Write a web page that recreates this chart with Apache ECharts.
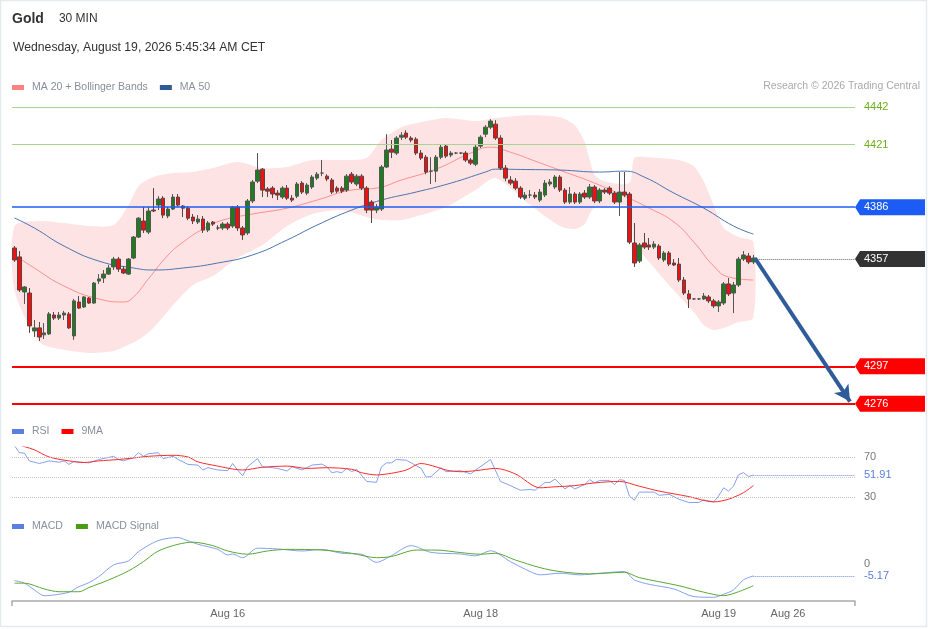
<!DOCTYPE html>
<html>
<head>
<meta charset="utf-8">
<title>Gold 30 MIN</title>
<script src="https://cdn.jsdelivr.net/npm/echarts@6/dist/echarts.min.js"></script>
<style>
html, body { margin: 0; padding: 0; background: #fff; }
#main { width: 929px; height: 629px; }
</style>
</head>
<body>
<div id="main"></div>
<script>
var FONT = '"Liberation Sans", Arial, sans-serif';

// x slots (30 min candles) and the date labels under the chart
var slotCount = 170;
var tickIdx = [43, 94, 142, 156];
var tickLabels = ['Aug 16', 'Aug 18', 'Aug 19', 'Aug 26'];

// candles
var open = [4363.2,4358.2,4338.6,4338.0,4316.8,4318.5,4314.6,4315.1,4325.7,4324.0,4325.7,4326.3,4314.0,4333.0,4330.2,4335.2,4332.4,4344.7,4346.4,4348.6,
  4352.6,4357.0,4351.4,4348.6,4357.6,4369.3,4378.3,4372.1,4384.4,4387.2,4391.1,4381.1,4385.0,4391.7,4386.7,4385.5,4380.5,4377.7,4379.4,4373.2,
  4377.7,4374.4,4374.4,4376.6,4375.5,4386.1,4374.4,4371.6,4389.5,4400.6,4407.3,4396.2,4396.7,4393.9,4391.7,4396.7,4391.1,4392.2,4399.5,4393.9,
  4397.3,4402.3,4405.1,4403.4,4401.2,4396.7,4396.7,4395.6,4404.5,4399.0,4403.4,4396.7,4388.9,4384.4,4385.0,4408.5,4418.5,4416.3,4425.2,4427.5,
  4424.7,4424.1,4416.3,4414.0,4406.2,4406.2,4414.0,4420.2,4415.2,4416.3,4416.3,4416.3,4412.4,4410.1,4420.2,4426.9,4430.8,4432.5,4424.7,4407.9,
  4401.2,4400.6,4396.7,4391.1,4392.8,4392.8,4390.0,4392.8,4399.0,4397.3,4402.9,4395.6,4388.9,4393.4,4388.9,4393.9,4391.7,4397.3,4389.5,4395.6,
  4396.7,4393.9,4388.9,4394.5,4393.4,4366.0,4355.9,4366.0,4364.9,4363.7,4364.3,4356.5,4360.4,4354.8,4354.2,4345.3,4337.5,4334.7,4334.7,4334.7,
  4335.8,4333.6,4330.8,4332.4,4343.1,4338.0,4342.5,4357.0,4358.7,4355.4];
var close = [4356.5,4339.7,4341.4,4319.6,4318.5,4313.4,4315.7,4326.3,4324.0,4325.7,4326.8,4318.5,4333.6,4329.6,4335.8,4332.4,4343.6,4345.9,4348.6,4352.0,
  4357.0,4351.4,4349.2,4357.0,4369.3,4379.9,4373.2,4383.9,4383.9,4390.6,4381.6,4385.0,4391.7,4387.2,4385.5,4379.9,4378.3,4379.4,4373.2,4377.2,
  4376.6,4374.4,4376.6,4374.4,4386.1,4374.4,4370.5,4389.5,4400.1,4406.8,4395.6,4395.0,4393.4,4392.8,4396.7,4391.1,4390.0,4399.0,4394.5,4398.4,
  4402.9,4404.5,4405.1,4401.8,4394.5,4395.0,4395.0,4403.4,4400.1,4403.4,4396.7,4384.4,4384.4,4386.1,4408.5,4418.0,4416.8,4424.7,4426.3,4425.2,
  4423.6,4416.3,4413.5,4405.7,4406.2,4414.0,4419.6,4414.6,4416.3,4416.3,4416.3,4412.4,4410.7,4419.6,4425.2,4430.8,4434.2,4424.7,4407.9,4402.3,
  4399.5,4396.7,4391.7,4392.8,4392.8,4391.7,4394.5,4399.5,4400.1,4402.9,4395.6,4388.9,4393.4,4388.9,4393.4,4391.7,4397.3,4389.5,4395.6,4394.5,
  4393.9,4388.9,4394.5,4392.8,4366.5,4354.8,4364.9,4363.7,4363.7,4365.4,4357.6,4360.4,4354.2,4353.7,4345.3,4338.0,4334.7,4334.7,4334.7,4336.3,
  4333.6,4330.8,4333.0,4343.1,4337.5,4342.5,4357.0,4359.3,4355.4,4357.6];
var low = [4355.4,4338.6,4331.9,4315.7,4313.4,4311.2,4312.3,4314.6,4322.9,4322.9,4322.9,4317.9,4311.8,4329.1,4329.6,4331.9,4331.9,4343.1,4343.6,4348.1,
  4350.9,4349.8,4348.6,4348.1,4357.0,4368.8,4371.6,4371.0,4383.3,4384.4,4379.9,4379.9,4384.4,4386.1,4380.5,4378.8,4376.6,4376.6,4371.6,4372.1,
  4375.5,4373.2,4373.2,4373.2,4374.4,4372.7,4367.7,4370.5,4388.3,4399.5,4391.7,4391.7,4391.1,4390.0,4390.6,4390.0,4388.9,4391.1,4393.4,4392.8,
  4396.2,4401.2,4403.4,4400.6,4393.4,4393.9,4393.9,4394.5,4399.0,4397.8,4395.6,4382.7,4377.2,4382.7,4383.9,4407.9,4413.5,4415.2,4423.6,4424.1,
  4422.4,4415.2,4412.4,4404.5,4399.0,4400.1,4412.9,4413.5,4414.0,4415.7,4415.7,4411.3,4409.6,4409.0,4419.1,4425.2,4429.7,4423.6,4406.8,4400.6,
  4398.4,4395.6,4390.6,4390.0,4391.1,4390.6,4388.9,4391.7,4397.8,4396.2,4394.5,4387.8,4387.8,4387.8,4387.8,4390.6,4390.6,4388.3,4388.3,4393.4,
  4392.8,4387.8,4381.1,4391.7,4365.4,4352.6,4354.8,4362.6,4362.1,4362.6,4356.5,4355.4,4353.1,4353.1,4344.2,4336.9,4329.6,4334.1,4334.1,4334.1,
  4332.4,4329.6,4327.4,4331.3,4336.3,4326.8,4341.4,4355.9,4354.2,4354.2];
var high = [4364.3,4361.5,4341.9,4340.8,4322.9,4321.8,4321.2,4327.4,4327.4,4327.4,4328.0,4327.4,4334.7,4336.3,4336.3,4335.8,4344.2,4348.6,4350.9,4353.7,
  4358.2,4358.2,4353.1,4357.6,4369.9,4380.5,4386.1,4386.1,4396.7,4392.2,4392.2,4386.1,4393.4,4393.4,4387.2,4386.7,4382.2,4381.6,4381.1,4378.3,
  4378.3,4376.0,4377.7,4377.7,4386.7,4387.2,4375.5,4390.6,4401.2,4416.3,4407.9,4397.3,4397.8,4395.6,4397.8,4398.4,4392.8,4400.1,4400.6,4399.5,
  4404.0,4405.7,4412.4,4404.5,4402.3,4397.8,4397.8,4404.5,4405.7,4404.5,4404.5,4397.8,4390.0,4387.8,4409.6,4426.9,4423.6,4425.8,4428.0,4429.1,
  4425.8,4425.2,4418.0,4415.2,4414.0,4415.2,4420.8,4421.3,4417.4,4416.8,4416.8,4417.4,4413.5,4420.8,4426.3,4431.9,4435.3,4434.7,4426.3,4409.6,
  4403.4,4402.3,4397.8,4394.5,4395.6,4394.5,4396.2,4401.2,4401.8,4404.0,4404.0,4396.7,4397.3,4394.5,4394.5,4395.6,4399.0,4398.4,4396.7,4396.7,
  4397.8,4395.0,4405.7,4405.7,4394.5,4377.2,4366.0,4371.6,4368.8,4367.1,4365.4,4361.5,4361.5,4357.0,4357.6,4347.0,4339.7,4335.2,4335.2,4338.0,
  4336.9,4334.7,4334.1,4344.2,4346.4,4344.2,4358.2,4361.5,4360.4,4359.3];

// Bollinger bands (20) read at sample candles
var bbIdx = [0,5,10,15,20,23,25,28,32,36,40,45,50,55,60,66,71,74,78,82,87,93,97,104,110,113,115,116,117,119,124,125,128,134,137,139,141,143,146,149];
var bbUpper = [4375.5,4378.3,4377.2,4375.5,4376.0,4387.2,4397.8,4402.9,4405.1,4405.7,4407.9,4411.3,4407.9,4408.5,4412.4,4412.4,4413.5,4423.6,4430.8,4433.6,
  4435.9,4434.2,4435.9,4437.5,4436.4,4431.9,4422.4,4412.4,4404.0,4400.6,4399.5,4413.5,4414.0,4412.4,4409.0,4400.6,4387.2,4374.4,4369.3,4366.5];
var bbLower = [4339.7,4310.6,4306.2,4304.5,4305.6,4309.0,4311.8,4318.5,4331.3,4342.5,4347.5,4357.6,4364.9,4375.5,4382.2,4384.4,4380.5,4378.8,4378.8,4381.6,
  4386.1,4395.6,4402.3,4387.2,4375.5,4373.8,4376.6,4382.2,4386.1,4386.7,4386.1,4366.0,4355.4,4336.3,4327.4,4320.1,4317.3,4318.4,4321.8,4324.1];

// MA 20 and MA 50
var ma20Idx = [0,4,10,17,22,24,27,31,34,38,42,48,55,61,68,73,78,85,92,96,100,105,111,117,123,128,133,137,141,144,149];
var ma20 = [4359.3,4352.0,4341.9,4334.7,4333.0,4335.8,4345.9,4359.3,4366.5,4373.8,4378.8,4382.2,4385.5,4390.0,4395.6,4396.7,4401.2,4407.3,4416.3,4419.6,
  4416.8,4411.8,4405.7,4399.5,4392.2,4385.5,4377.7,4366.5,4353.1,4347.0,4345.3];
var ma50Idx = [0,4,10,17,24,28,34,41,48,55,61,68,74,81,88,95,97,103,110,118,123,127,133,139,145,149];
var ma50 = [4380.0,4374.4,4364.3,4355.9,4352.0,4350.9,4352.0,4354.8,4359.3,4367.7,4376.0,4384.4,4390.0,4394.5,4399.5,4405.7,4407.3,4407.1,4406.8,4405.7,
  4406.2,4402.9,4393.9,4385.5,4375.5,4371.0];

// price levels
var greenLevels = [4442, 4421];
var blueLevel = 4386;
var lastPrice = 4357;
var redLevels = [4297, 4276];
var tagLevels = [4386, 4357, 4297, 4276];
var tagColors = ['#1c5cf5', '#333333', '#ff0000', '#ff0000'];
var arrowFrom = [149.3, 4357.6];
var arrowTo = [168.5, 4277.3];

// RSI and its 9 period average
var rsiIdx = [0,1,2,3,5,7,9,10,11,12,15,17,20,21,22,24,25,26,27,29,30,32,33,35,37,38,39,41,43,44,45,46,47,49,50,52,53,55,56,58,
  60,62,63,64,65,66,67,68,69,71,73,74,75,76,77,79,80,82,83,84,86,87,90,92,93,96,98,100,102,104,105,107,108,109,111,112,113,115,116,117,
  118,120,121,122,123,124,125,126,129,130,132,134,136,138,139,141,142,143,144,145,146,147,148,149];
var rsi = [81.4,74.3,73.9,66.1,63.5,66.1,64.8,66.1,62.6,65.5,64.1,67.5,70.7,67.5,66.1,69.4,74.3,70.7,73.3,74.3,68.4,70.7,67.5,62.6,61.9,57.0,59.3,57.0,56.3,63.5,
  57.0,51.2,60.2,68.4,60.2,59.3,58.6,56.0,60.2,57.0,61.9,62.9,60.2,54.3,55.3,54.3,58.6,55.3,57.7,45.6,44.6,60.2,64.1,64.1,67.5,66.8,64.1,58.6,49.9,50.5,
  59.3,55.3,56.3,53.1,57.0,67.5,45.6,41.4,36.8,37.5,36.8,44.6,44.6,47.9,38.1,41.4,38.1,42.4,47.3,44.1,46.6,46.6,42.4,47.3,46.6,31.0,26.8,34.9,34.9,31.7,
  32.7,27.8,24.5,24.5,27.1,25.1,31.0,39.2,35.9,40.8,52.2,54.4,50.5,51.91];
var rsiMaIdx = [0,2,4,7,11,14,17,21,24,27,32,35,37,41,44,46,50,55,59,63,68,70,73,76,79,82,85,87,90,93,97,101,106,109,113,117,122,126,130,136,141,144,147,149];
var rsiMa = [83.4,80.4,77.2,70.0,66.1,64.5,66.1,67.5,69.0,70.7,71.7,70.0,65.1,60.9,58.0,57.0,59.7,60.9,58.6,59.3,57.7,54.3,52.1,53.7,57.0,63.5,60.2,57.0,55.3,56.3,
  58.6,53.1,39.2,40.2,41.4,44.1,45.6,40.8,35.9,30.4,25.1,27.8,34.3,41.4];
var rsiBands = [70, 50, 30];

// MACD and signal
var macdIdx = [0,2,4,6,8,11,13,15,17,20,23,25,29,33,34,37,41,43,44,46,49,53,58,62,66,70,73,76,80,84,90,93,96,100,104,106,110,114,118,123,125,128,133,137,141,143,145,147,149];
var macd = [-7.2,-8.3,-11.2,-13.7,-13.4,-12.2,-9.8,-8.1,-5.5,-0.4,1.3,5.3,10.1,11.4,10.8,8.5,6.3,3.9,4.3,2.7,6.8,6.5,5.6,6.3,4.6,4.2,0.7,3.6,7.9,5.0,
  4.3,3.5,5.7,1.0,-3.3,-4.7,-4.0,-4.7,-4.0,-3.3,-6.9,-8.8,-10.8,-14.1,-14.4,-13.1,-11.2,-6.9,-5.17];
var sigIdx = [0,2,6,9,13,15,19,23,26,29,33,36,40,43,47,51,55,62,68,73,76,81,85,90,94,97,101,106,110,116,123,126,134,139,143,146,149];
var macdSignal = [-8.3,-8.3,-10.8,-12.0,-12.0,-10.2,-6.9,-3.0,1.0,5.6,8.5,9.4,7.9,5.6,4.2,5.6,6.3,6.0,4.6,2.7,3.2,6.0,6.0,4.9,4.2,4.6,1.7,-1.6,-3.3,-4.3,
  -3.6,-5.9,-9.4,-12.2,-13.7,-12.0,-9.4];

function pairs(idx, vals) {
  return idx.map(function (x, k) { return [x, vals[k]]; });
}

var slots = [];
for (var i = 0; i < slotCount; i++) slots.push(i);
var candles = open.map(function (o, k) { return [o, close[k], low[k], high[k]]; });
var lastIdx = open.length - 1;
var xEnd = slotCount - 0.5;

var legendText = { color: '#888e9c', fontSize: 10.5, fontFamily: FONT, padding: [0, 0, 0, 3] };
var sideLabel = { show: true, position: 'end', distance: 9, color: '#777', fontSize: 11, fontFamily: FONT };

var myChart = echarts.init(document.getElementById('main'));

var option = {
  animation: false,
  backgroundColor: '#fff',
  textStyle: { fontFamily: FONT },
  title: [
    {
      text: '{b|Gold}   {n|30 MIN}',
      left: 12, top: 10, padding: 0,
      textStyle: {
        rich: {
          b: { fontSize: 14, fontWeight: 'bold', color: '#333', fontFamily: FONT },
          n: { fontSize: 12, fontWeight: 'normal', color: '#333', fontFamily: FONT }
        }
      }
    },
    {
      text: 'Wednesday, August 19, 2026 5:45:34 AM CET',
      left: 13, top: 42, padding: 0,
      textStyle: { fontSize: 12.2, fontWeight: 'normal', color: '#333', fontFamily: FONT }
    },
    {
      text: 'Research © 2026 Trading Central',
      right: 9, top: 81, padding: 0,
      textStyle: { fontSize: 10.5, fontWeight: 'normal', color: '#aaaaaa', fontFamily: FONT }
    }
  ],
  legend: [
    {
      left: 12, top: 82, padding: 0, icon: 'rect', itemWidth: 12, itemHeight: 5, itemGap: 12,
      selectedMode: false, textStyle: legendText,
      data: [
        { name: 'MA 20 + Bollinger Bands', itemStyle: { color: '#ff8080' } },
        { name: 'MA 50', itemStyle: { color: '#2f5a96' } }
      ]
    },
    {
      left: 12, top: 426, padding: 0, icon: 'rect', itemWidth: 12, itemHeight: 5, itemGap: 12,
      selectedMode: false, textStyle: legendText,
      data: [
        { name: 'RSI', itemStyle: { color: '#5b7fe0' } },
        { name: '9MA', itemStyle: { color: '#ff0000' } }
      ]
    },
    {
      left: 12, top: 521, padding: 0, icon: 'rect', itemWidth: 12, itemHeight: 5, itemGap: 13,
      selectedMode: false, textStyle: legendText,
      data: [
        { name: 'MACD', itemStyle: { color: '#5b7fe0' } },
        { name: 'MACD Signal', itemStyle: { color: '#4a9c10' } }
      ]
    }
  ],
  graphic: [
    {
      type: 'rect', silent: true,
      shape: { x: 0.5, y: 0.5, width: 926, height: 626 },
      style: { fill: 'none', stroke: '#e4eaee', lineWidth: 1.5 }
    }
  ],
  grid: [
    { left: 12, right: 74, top: 100, height: 311 },
    { left: 12, right: 74, top: 447, height: 60 },
    { left: 12, right: 74, top: 530, height: 71 }
  ],
  xAxis: [
    { type: 'category', gridIndex: 0, data: slots, boundaryGap: true, show: false },
    { type: 'value', gridIndex: 0, min: -0.5, max: xEnd, show: false },
    { type: 'value', gridIndex: 1, min: -0.5, max: xEnd, show: false },
    {
      type: 'value', gridIndex: 2, min: -0.5, max: xEnd,
      splitLine: { show: false },
      axisLine: { show: true, onZero: false, lineStyle: { color: '#aaaaaa', width: 1.5 } },
      axisTick: { show: true, customValues: [-0.5, xEnd], length: 5, lineStyle: { color: '#aaaaaa', width: 1.5 } },
      axisLabel: {
        customValues: tickIdx,
        formatter: function (v) { return tickLabels[tickIdx.indexOf(Math.round(v))] || ''; },
        color: '#666', fontSize: 11, margin: 7, fontFamily: FONT
      }
    }
  ],
  yAxis: [
    { type: 'value', gridIndex: 0, min: 4272, max: 4446, show: false },
    { type: 'value', gridIndex: 1, min: 20, max: 80, show: false },
    { type: 'value', gridIndex: 2, min: -16, max: 14.66, show: false }
  ],
  series: [
    {
      // Bollinger band area: upper edge forward, lower edge back
      name: 'bollinger', type: 'custom', xAxisIndex: 1, yAxisIndex: 0, z: 1, silent: true,
      data: [[bbIdx[0], bbUpper[0]]],
      renderItem: function (params, api) {
        var up = bbIdx.map(function (x, k) { return api.coord([x, bbUpper[k]]); });
        var lo = bbIdx.map(function (x, k) { return api.coord([x, bbLower[k]]); }).reverse();
        return {
          type: 'polygon',
          shape: { points: up.concat(lo), smooth: 0.25 },
          style: { fill: '#fde3e3' }
        };
      }
    },
    {
      name: 'MA 20 + Bollinger Bands', type: 'line', xAxisIndex: 1, yAxisIndex: 0,
      data: pairs(ma20Idx, ma20), symbol: 'none', smooth: true,
      lineStyle: { color: '#ff8f8f', width: 1 }, itemStyle: { color: '#ff8080' }, z: 2
    },
    {
      name: 'MA 50', type: 'line', xAxisIndex: 1, yAxisIndex: 0,
      data: pairs(ma50Idx, ma50), symbol: 'none', smooth: true,
      lineStyle: { color: '#4d74b0', width: 1 }, itemStyle: { color: '#2f5a96' }, z: 2
    },
    {
      name: 'Gold', type: 'candlestick', xAxisIndex: 0, yAxisIndex: 0,
      data: candles, barWidth: 4, z: 3,
      itemStyle: {
        color: '#1e7b1e', color0: '#ee1111',
        borderColor: '#555555', borderColor0: '#5a4444', borderWidth: 1
      }
    },
    {
      name: 'levels', type: 'line', xAxisIndex: 1, yAxisIndex: 0, data: [], z: 4, silent: true,
      markLine: {
        symbol: 'none', silent: true, animation: false,
        label: { show: false },
        lineStyle: { type: 'solid' },
        data: greenLevels.map(function (v) {
          return {
            yAxis: v,
            lineStyle: { color: '#a9d48f', width: 1, type: 'solid' },
            label: { show: true, position: 'end', distance: 9, formatter: String(v), color: '#6fae1c', fontSize: 11, fontFamily: FONT }
          };
        }).concat([
          { yAxis: blueLevel, lineStyle: { color: '#1c5cf5', width: 1.5, type: 'solid' } },
          [
            { coord: [lastIdx + 0.8, lastPrice], lineStyle: { color: '#666', width: 1, type: 'dotted' } },
            { coord: [xEnd, lastPrice] }
          ]
        ]).concat(redLevels.map(function (v) {
          return { yAxis: v, lineStyle: { color: '#ff0000', width: 2, type: 'solid' } };
        }))
      }
    },
    {
      name: 'forecast', type: 'line', xAxisIndex: 1, yAxisIndex: 0, data: [], z: 6, silent: true,
      markLine: {
        symbol: ['none', 'arrow'], symbolSize: [13, 16], silent: true, animation: false,
        label: { show: false },
        lineStyle: { color: '#2e5c9a', width: 4, type: 'solid' },
        data: [[{ coord: arrowFrom }, { coord: arrowTo }]]
      }
    },
    {
      name: 'tags', type: 'custom', xAxisIndex: 1, yAxisIndex: 0, z: 7, clip: false, silent: true,
      data: tagLevels.map(function (v) { return [xEnd, v]; }),
      renderItem: function (params, api) {
        var p = api.coord([api.value(0), api.value(1)]);
        var h = 8, w = 70, tip = 5;
        return {
          type: 'group',
          children: [
            {
              type: 'polygon',
              shape: { points: [[p[0], p[1]], [p[0] + tip, p[1] - h], [p[0] + w, p[1] - h], [p[0] + w, p[1] + h], [p[0] + tip, p[1] + h]] },
              style: { fill: tagColors[params.dataIndex] }
            },
            {
              type: 'text',
              style: {
                text: String(api.value(1)), x: p[0] + 9, y: p[1],
                verticalAlign: 'middle', align: 'left',
                fill: '#fff', fontSize: 11, fontFamily: FONT
              }
            }
          ]
        };
      }
    },
    {
      name: 'RSI', type: 'line', xAxisIndex: 2, yAxisIndex: 1,
      data: pairs(rsiIdx, rsi), symbol: 'none',
      lineStyle: { color: '#86a1ee', width: 1 }, itemStyle: { color: '#5b7fe0' }, z: 3,
      markLine: {
        symbol: 'none', silent: true, animation: false,
        label: { show: false },
        data: rsiBands.map(function (v) {
          return {
            yAxis: v,
            lineStyle: { color: '#c6c6c6', width: 1, type: 'dotted' },
            label: v === 50 ? { show: false } : Object.assign({ formatter: String(v) }, sideLabel)
          };
        }).concat([[
          {
            coord: [lastIdx, rsi[rsi.length - 1]],
            lineStyle: { color: '#6d8ee8', width: 1, type: 'dotted' },
            label: Object.assign({}, sideLabel, { formatter: String(rsi[rsi.length - 1]), color: '#5b7fe0' })
          },
          { coord: [xEnd, rsi[rsi.length - 1]] }
        ]])
      }
    },
    {
      name: '9MA', type: 'line', xAxisIndex: 2, yAxisIndex: 1,
      data: pairs(rsiMaIdx, rsiMa), symbol: 'none', smooth: 0.3,
      lineStyle: { color: '#ff2a2a', width: 1 }, itemStyle: { color: '#ff0000' }, z: 3
    },
    {
      name: 'MACD', type: 'line', xAxisIndex: 3, yAxisIndex: 2,
      data: pairs(macdIdx, macd), symbol: 'none', smooth: 0.3,
      lineStyle: { color: '#86a1ee', width: 1 }, itemStyle: { color: '#5b7fe0' }, z: 3,
      markLine: {
        symbol: 'none', silent: true, animation: false,
        label: { show: false },
        data: [
          {
            yAxis: 0, lineStyle: { color: 'rgba(0,0,0,0)', width: 1 },
            label: Object.assign({ formatter: '0' }, sideLabel)
          },
          [
            {
              coord: [lastIdx, macd[macd.length - 1]],
              lineStyle: { color: '#6d8ee8', width: 1, type: 'dotted' },
              label: Object.assign({}, sideLabel, { formatter: String(macd[macd.length - 1]), color: '#5b7fe0' })
            },
            { coord: [xEnd, macd[macd.length - 1]] }
          ]
        ]
      }
    },
    {
      name: 'MACD Signal', type: 'line', xAxisIndex: 3, yAxisIndex: 2,
      data: pairs(sigIdx, macdSignal), symbol: 'none', smooth: 0.3,
      lineStyle: { color: '#5aa832', width: 1 }, itemStyle: { color: '#4a9c10' }, z: 3
    }
  ]
};

myChart.setOption(option);
</script>
</body>
</html>
